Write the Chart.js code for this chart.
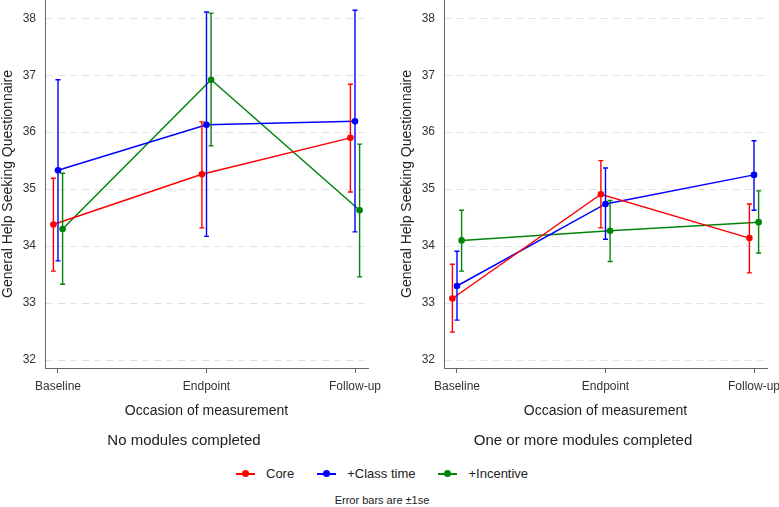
<!DOCTYPE html>
<html>
<head>
<meta charset="utf-8">
<script src="https://cdn.jsdelivr.net/npm/chart.js@4/dist/chart.umd.min.js"></script>
<style>
  body { margin: 0; background: #fff; font-family: "Liberation Sans", Arial, sans-serif; }
  #wrap { position: relative; width: 779px; height: 507px; overflow: hidden; }
  #left { position: absolute; left: 0; top: 0; }
  #right { position: absolute; left: 390px; top: 0; }
  #legend { position: absolute; left: 236px; top: 465px; font-size: 13px; color: #222; white-space: nowrap; }
  .item { display: inline-block; position: relative; padding-left: 30px; margin-right: 23px; line-height: 18px; }
  .item .ln { position: absolute; left: 0; top: 8px; width: 19px; height: 2px; }
  .item .dt { position: absolute; left: 6px; top: 5px; width: 7px; height: 7px; border-radius: 50%; }
  #note { position: absolute; left: 0; width: 764px; top: 494px; text-align: center; font-size: 11px; color: #222; }
</style>
</head>
<body>
<div id="wrap">
  <canvas id="left" width="390" height="457"></canvas>
  <canvas id="right" width="389" height="457"></canvas>
  <div id="legend"></div>
  <div id="note">Error bars are ±1se</div>
</div>
<script>
// categories et graduations
var categories = ['Baseline', 'Endpoint', 'Follow-up'];
var yTicks = [32, 33, 34, 35, 36, 37, 38];
var seriesNames = ['Core', '+Class time', '+Incentive'];
var seriesColors = ['#ff0000', '#0000ff', '#00850a'];

// No modules completed
var noneCore = [34.38, 35.26, 35.90];
var noneCoreLo = [33.56, 34.32, 34.95];
var noneCoreHi = [35.19, 36.18, 36.84];
var noneClass = [35.33, 36.13, 36.19];
var noneClassLo = [33.74, 34.17, 34.25];
var noneClassHi = [36.92, 38.11, 38.14];
var noneInc = [34.30, 36.92, 34.63];
var noneIncLo = [33.33, 35.76, 33.46];
var noneIncHi = [35.28, 38.09, 35.79];

// One or more modules completed
var someCore = [33.08, 34.91, 34.14];
var someCoreLo = [32.49, 34.32, 33.53];
var someCoreHi = [33.68, 35.50, 34.74];
var someClass = [33.30, 34.74, 35.25];
var someClassLo = [32.70, 34.12, 34.63];
var someClassHi = [33.91, 35.37, 35.85];
var someInc = [34.10, 34.27, 34.42];
var someIncLo = [33.56, 33.73, 33.88];
var someIncHi = [34.63, 34.80, 34.97];

var dodge = [-0.031, 0, 0.031];

// barres d'erreur dessinées avec les échelles du graphique
var errorBars = {
  id: 'errorBars',
  afterDatasetsDraw: function (chart) {
    var ctx = chart.ctx;
    var ys = chart.scales.y;
    chart.data.datasets.forEach(function (ds, i) {
      var meta = chart.getDatasetMeta(i);
      ctx.save();
      ctx.strokeStyle = ds.borderColor;
      ctx.lineWidth = 1.4;
      meta.data.forEach(function (pt, j) {
        var x = pt.x;
        var top = ys.getPixelForValue(ds.hi[j]);
        var bot = ys.getPixelForValue(ds.lo[j]);
        ctx.beginPath();
        ctx.moveTo(x, top); ctx.lineTo(x, bot);
        ctx.moveTo(x - 2.5, top); ctx.lineTo(x + 2.5, top);
        ctx.moveTo(x - 2.5, bot); ctx.lineTo(x + 2.5, bot);
        ctx.stroke();
      });
      ctx.restore();
    });
    // points par-dessus
    chart.data.datasets.forEach(function (ds, i) {
      chart.getDatasetMeta(i).data.forEach(function (pt) {
        ctx.beginPath();
        ctx.fillStyle = ds.borderColor;
        ctx.arc(pt.x, pt.y, 3.3, 0, Math.PI * 2);
        ctx.fill();
      });
    });
  }
};

function makeSet(k, vals, lo, hi) {
  return {
    label: seriesNames[k],
    data: vals.map(function (v, j) { return { x: j + dodge[k], y: v }; }),
    lo: lo,
    hi: hi,
    borderColor: seriesColors[k],
    backgroundColor: seriesColors[k],
    borderWidth: 1.5,
    pointRadius: 0,
    showLine: true,
    tension: 0
  };
}

function makeChart(id, title, sets, padLeft, padRight) {
  var ctx = document.getElementById(id).getContext('2d');
  return new Chart(ctx, {
    type: 'scatter',
    data: { datasets: sets },
    plugins: [errorBars],
    options: {
      responsive: false,
      animation: false,
      devicePixelRatio: 1,
      layout: { padding: { left: padLeft, right: padRight, top: 0, bottom: 0 } },
      plugins: {
        legend: { display: false },
        tooltip: { enabled: false },
        title: {
          display: true,
          text: title,
          position: 'bottom',
          color: '#222',
          font: { family: 'Liberation Sans', size: 15, weight: 'normal' },
          padding: { top: 3, bottom: 7 }
        }
      },
      scales: {
        x: {
          type: 'linear',
          min: -0.0875,
          max: 2.0875,
          afterBuildTicks: function (s) { s.ticks = [0, 1, 2].map(function (v) { return { value: v }; }); },
          afterFit: function (s) { s.height = 61; s.paddingLeft = 0; s.paddingRight = 0; },
          ticks: {
            callback: function (v) { return categories[v]; },
            color: '#333',
            font: { family: 'Liberation Sans', size: 12 },
            padding: 6,
            maxRotation: 0
          },
          grid: { drawOnChartArea: false, drawTicks: true, tickLength: 5, color: '#666' },
          border: { color: '#666', width: 1 },
          title: {
            display: true,
            text: 'Occasion of measurement',
            color: '#222',
            font: { family: 'Liberation Sans', size: 14 },
            padding: { top: 4, bottom: 9 }
          }
        },
        y: {
          min: 31.86,
          max: 38.32,
          afterBuildTicks: function (s) { s.ticks = yTicks.map(function (v) { return { value: v }; }); },
          afterFit: function (s) { s.width = 45; s.paddingTop = 0; s.paddingBottom = 0; },
          ticks: {
            color: '#333',
            font: { family: 'Liberation Sans', size: 12 },
            padding: 9
          },
          grid: { drawTicks: false, color: '#e2e2e2', lineWidth: 1 },
          border: { color: '#666', width: 1, dash: [7, 5] },
          title: {
            display: true,
            text: 'General Help Seeking Questionnaire',
            color: '#222',
            font: { family: 'Liberation Sans', size: 14 },
            padding: 0
          }
        }
      }
    }
  });
}

makeChart('left', 'No modules completed', [
  makeSet(0, noneCore, noneCoreLo, noneCoreHi),
  makeSet(1, noneClass, noneClassLo, noneClassHi),
  makeSet(2, noneInc, noneIncLo, noneIncHi)
], 0, 22);

makeChart('right', 'One or more modules completed', [
  makeSet(0, someCore, someCoreLo, someCoreHi),
  makeSet(1, someClass, someClassLo, someClassHi),
  makeSet(2, someInc, someIncLo, someIncHi)
], 9, 12);

// légende commune
var leg = document.getElementById('legend');
seriesNames.forEach(function (n, k) {
  var it = document.createElement('span');
  it.className = 'item';
  it.innerHTML = '<span class="ln" style="background:' + seriesColors[k] + '"></span>' +
    '<span class="dt" style="background:' + seriesColors[k] + '"></span>' + n;
  leg.appendChild(it);
});
</script>
</body>
</html>
